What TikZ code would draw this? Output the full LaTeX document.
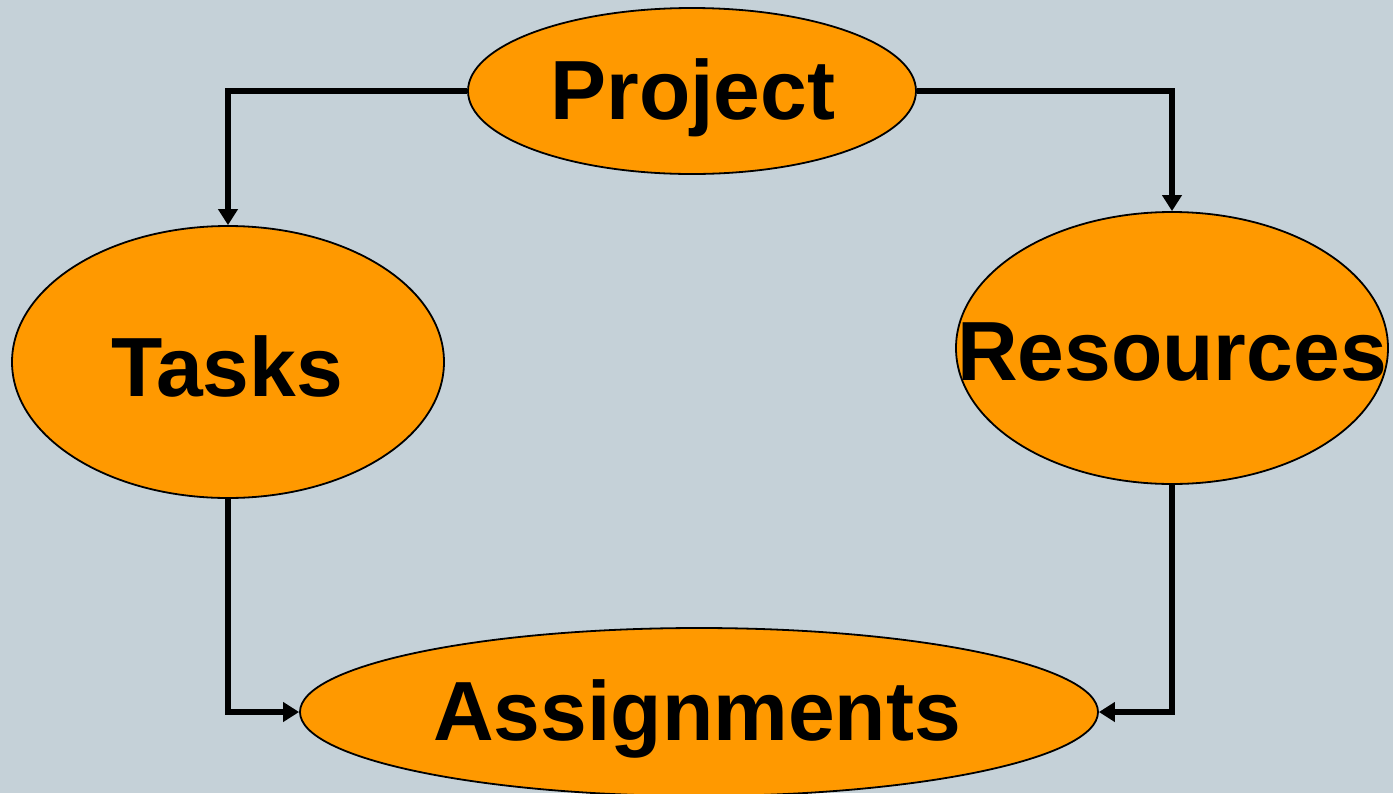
\documentclass[tikz,border=0pt]{standalone}
\usepackage{fontspec}
\setmainfont{Liberation Sans}
\usetikzlibrary{arrows.meta,shapes.geometric}
\definecolor{bg}{HTML}{C5D1D8}
\definecolor{orng}{HTML}{FF9900}
\begin{document}
\begin{tikzpicture}[x=1pt,y=-1pt,
  blob/.style={ellipse,draw=black,line width=1.8pt,fill=orng,inner sep=0pt},
  lbl/.style={font=\fontsize{84}{90}\selectfont\bfseries},
  conn/.style={line width=5.8pt,-{Triangle[width=19pt,length=16pt]}}]
\fill[bg] (0,0) rectangle (1393,793);
\useasboundingbox (0,0) rectangle (1393,793);
\node[blob,minimum width=448pt,minimum height=166pt] (proj) at (692,91) {};
\node[lbl] (projt) at (693,98) {Project};
\node[blob,minimum width=432pt,minimum height=272pt] (tasks) at (228,362) {};
\node[lbl] (taskst) at (227,366) {Tasks};
\node[blob,minimum width=432pt,minimum height=272pt] (res) at (1172,348) {};
\node[lbl] (rest) at (1172,352) {Resources};
\node[blob,minimum width=798pt,minimum height=168pt] (asg) at (699,712) {};
\node[lbl] (asgt) at (697,719) {Assignments};
\draw[conn] (proj.west) -| (tasks.north);
\draw[conn] (proj.east) -| (res.north);
\draw[conn] (tasks.south) |- (asg.west);
\draw[conn] (res.south) |- (asg.east);
\end{tikzpicture}
\end{document}
